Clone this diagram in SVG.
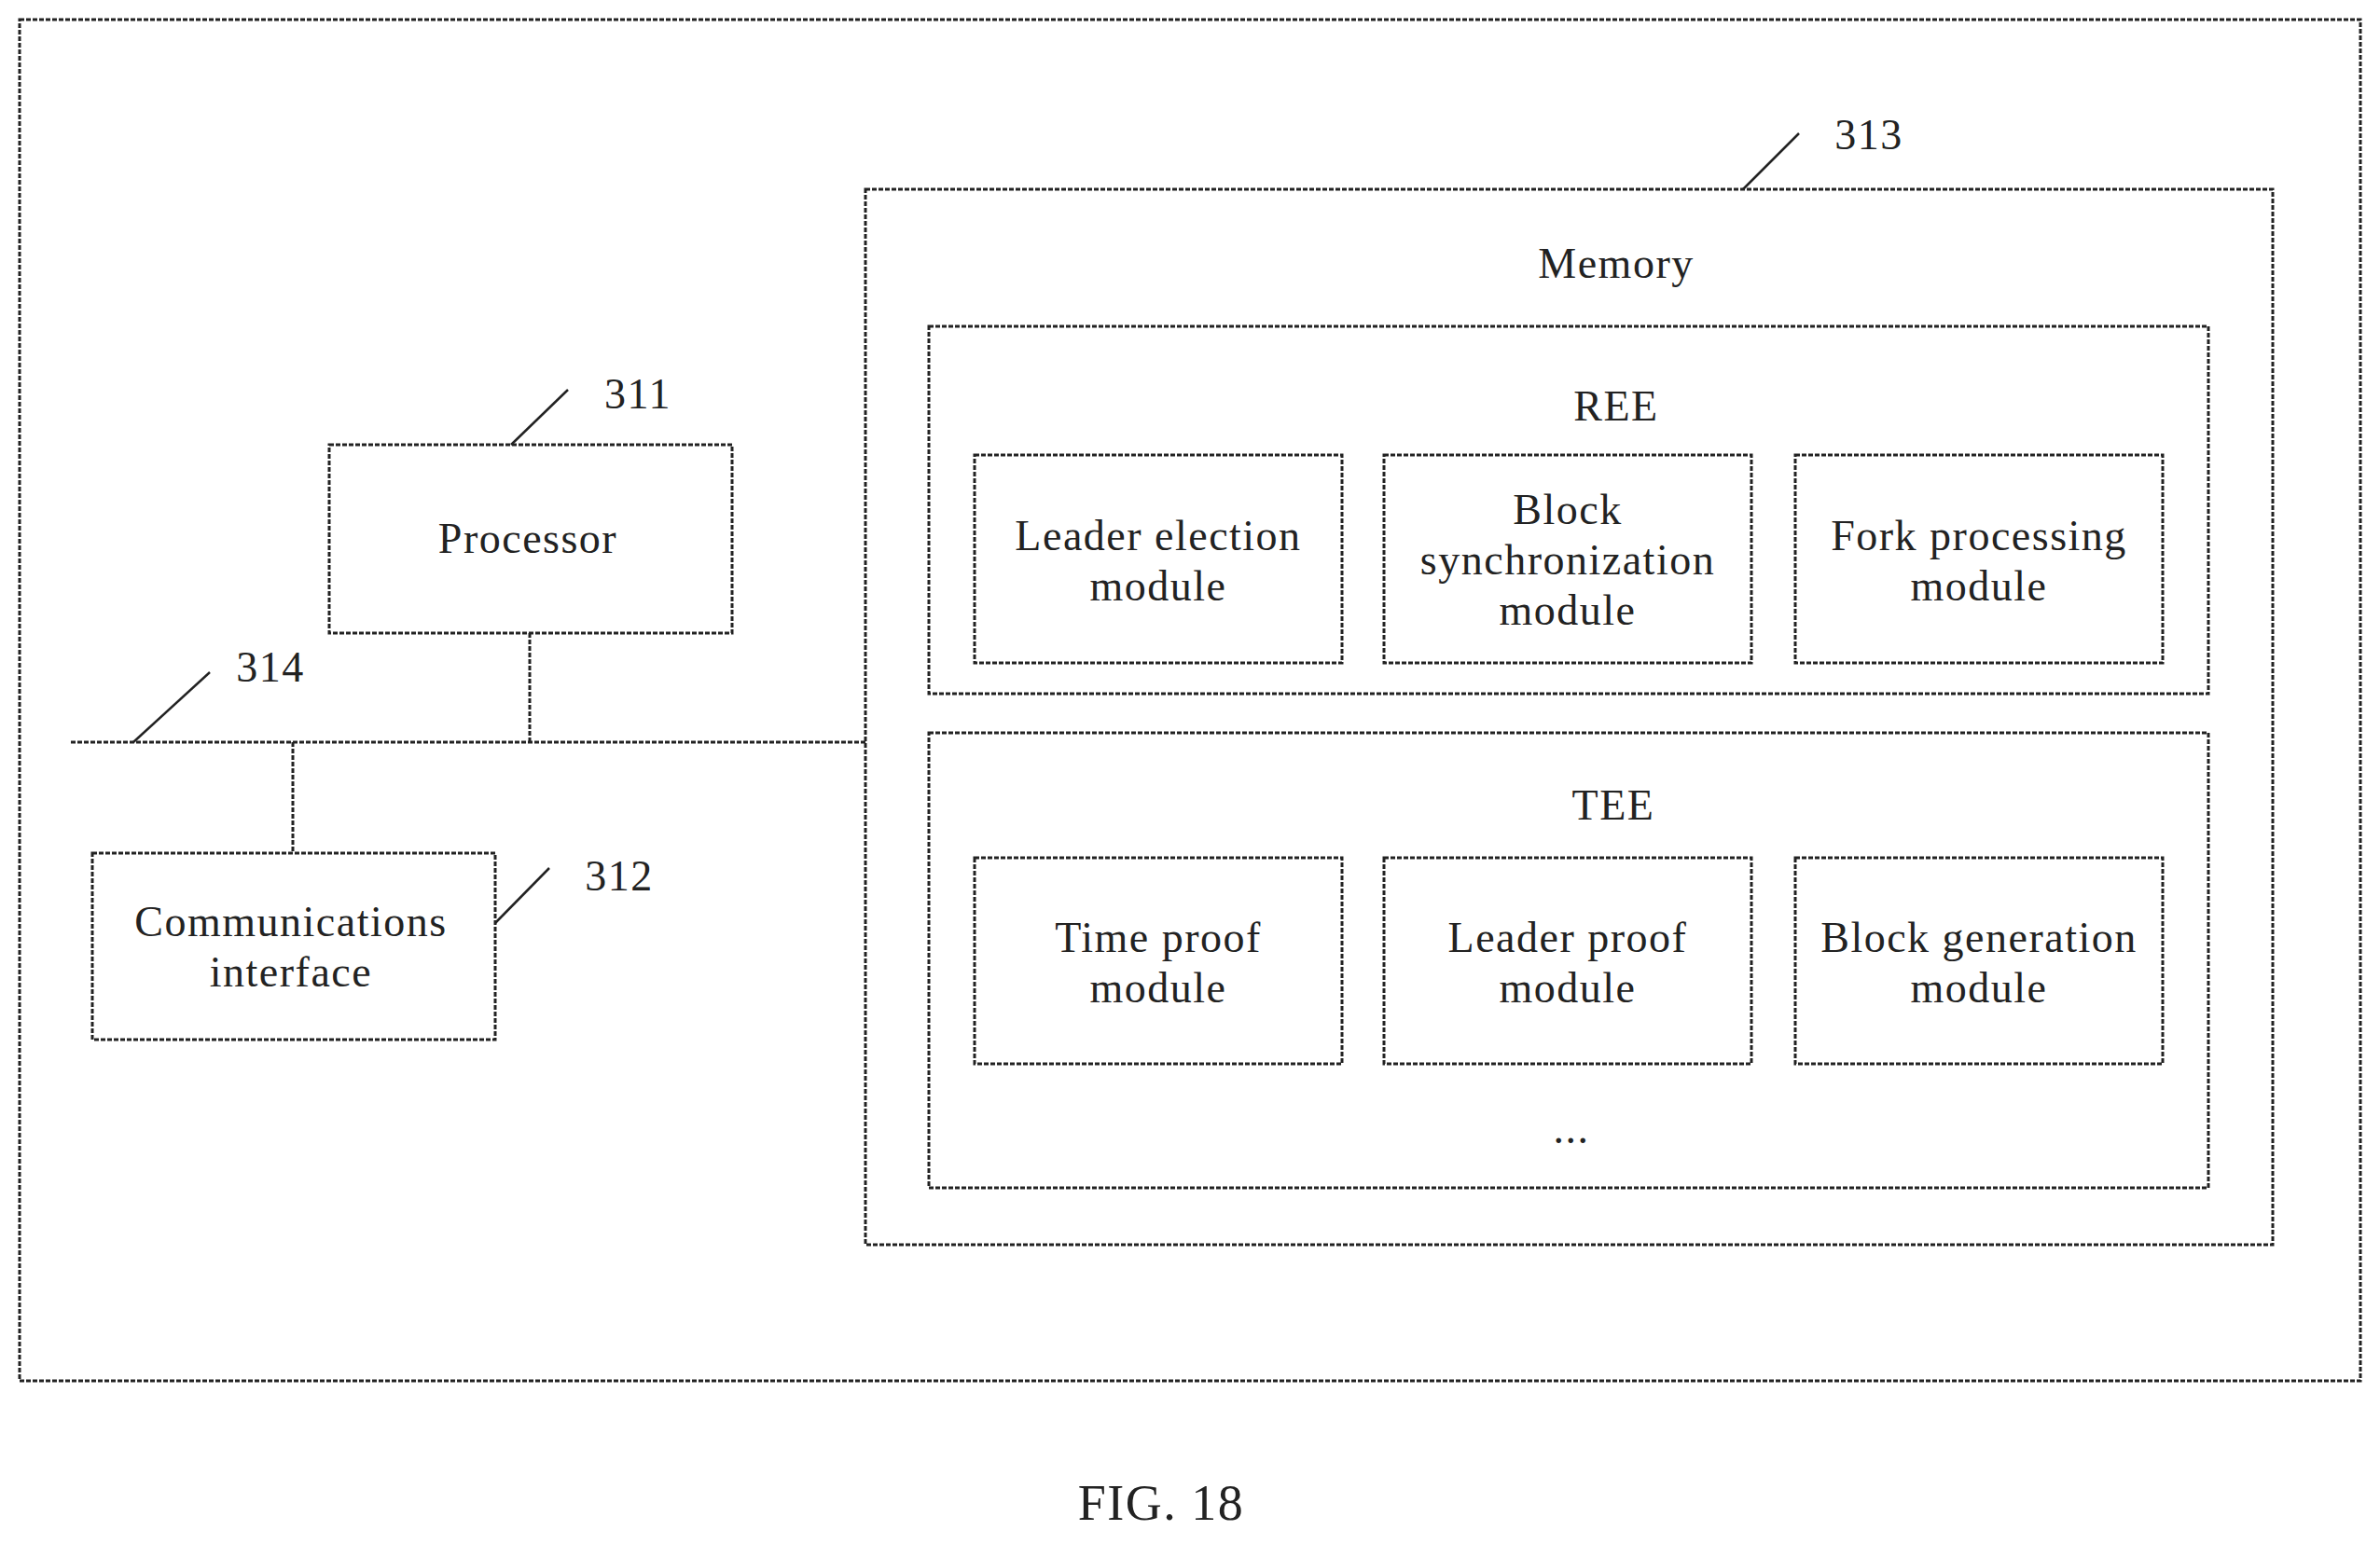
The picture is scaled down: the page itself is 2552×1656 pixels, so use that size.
<svg xmlns="http://www.w3.org/2000/svg" width="2552" height="1656" viewBox="0 0 2552 1656">
<style>
.b{fill:none;stroke:#222;stroke-width:3;stroke-dasharray:5 2}
.l{fill:none;stroke:#222;stroke-width:2.5}
text{font-family:"Liberation Serif",serif;font-size:46px;letter-spacing:1.5px;fill:#222;text-anchor:middle}
</style>
<rect width="2552" height="1656" fill="#fff"/>
<rect class="b" x="21" y="21" width="2510" height="1460"/>
<g id="memory"><rect class="b" x="928" y="203" width="1509" height="1132"/><text x="1733" y="298">Memory</text>
<line class="l" x1="1869" y1="203" x2="1929" y2="143"/><text x="2004" y="160">313</text></g>
<g id="ree"><rect class="b" x="996" y="350" width="1372" height="394"/><text x="1733" y="451">REE</text></g>
<g id="leader-election"><rect class="b" x="1045" y="488" width="394" height="223"/><text x="1242" y="590">Leader election</text><text x="1242" y="644">module</text></g>
<g id="block-sync"><rect class="b" x="1484" y="488" width="394" height="223"/><text x="1681" y="562">Block</text><text x="1681" y="616">synchronization</text><text x="1681" y="670">module</text></g>
<g id="fork"><rect class="b" x="1925" y="488" width="394" height="223"/><text x="2122" y="590">Fork processing</text><text x="2122" y="644">module</text></g>
<g id="tee"><rect class="b" x="996" y="786" width="1372" height="488"/><text x="1730" y="879">TEE</text><text x="1685" y="1226">...</text></g>
<g id="time-proof"><rect class="b" x="1045" y="920" width="394" height="221"/><text x="1242" y="1021">Time proof</text><text x="1242" y="1075">module</text></g>
<g id="leader-proof"><rect class="b" x="1484" y="920" width="394" height="221"/><text x="1681" y="1021">Leader proof</text><text x="1681" y="1075">module</text></g>
<g id="block-gen"><rect class="b" x="1925" y="920" width="394" height="221"/><text x="2122" y="1021">Block generation</text><text x="2122" y="1075">module</text></g>
<g id="processor"><rect class="b" x="353" y="477" width="432" height="202"/><text x="566" y="593">Processor</text>
<line class="l" x1="548" y1="477" x2="609" y2="418"/><text x="684" y="438">311</text></g>
<g id="comm"><rect class="b" x="99" y="915" width="432" height="200"/><text x="312" y="1004">Communications</text><text x="312" y="1058">interface</text>
<line class="l" x1="531" y1="990" x2="589" y2="931"/><text x="664" y="955">312</text></g>
<g id="connectors">
<line class="b" x1="76" y1="796" x2="928" y2="796"/>
<line class="b" x1="568" y1="679" x2="568" y2="796"/>
<line class="b" x1="314" y1="796" x2="314" y2="915"/>
<line class="l" x1="143" y1="796" x2="225" y2="721"/><text x="290" y="731">314</text>
</g>
<text x="1245" y="1630" style="font-size:54px">FIG. 18</text>
</svg>
